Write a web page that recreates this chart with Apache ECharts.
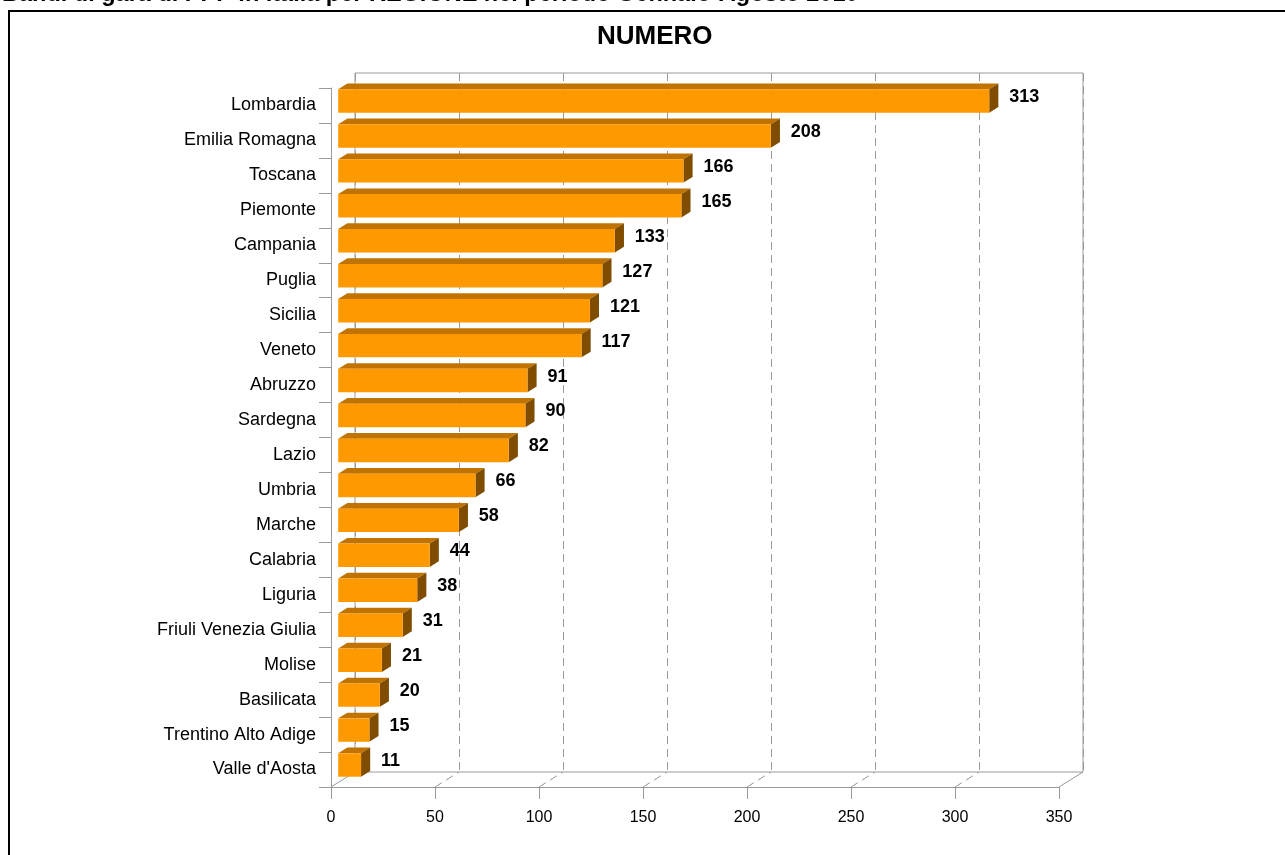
<!DOCTYPE html>
<html>
<head>
<meta charset="utf-8">
<script src="https://cdn.jsdelivr.net/npm/echarts@6/dist/echarts.min.js"></script>
<style>
  html, body { margin: 0; padding: 0; background: #fff; }
  #chart { width: 1285px; height: 855px; }
</style>
</head>
<body>
<div id="chart"></div>
<script>
const regions = ['Lombardia', 'Emilia Romagna', 'Toscana', 'Piemonte', 'Campania', 'Puglia', 'Sicilia', 'Veneto', 'Abruzzo', 'Sardegna', 'Lazio', 'Umbria', 'Marche', 'Calabria', 'Liguria', 'Friuli Venezia Giulia', 'Molise', 'Basilicata', 'Trentino Alto Adige', "Valle d'Aosta"];
const counts = [313, 208, 166, 165, 133, 127, 121, 117, 91, 90, 82, 66, 58, 44, 38, 31, 21, 20, 15, 11];
const xTicks = [0, 50, 100, 150, 200, 250, 300, 350];
const pageTitle = 'Bandi di gara di PPP in Italia per REGIONE nel periodo Gennaio-Agosto 2010';
const chartTitle = 'NUMERO';

const FONT = "'Liberation Sans', Arial, sans-serif";
const AXIS_COLOR = '#9a9a9a';
const DX = 24, DY = -15;        // wall depth
const BAR_OFF = 0.3;            // bar front plane as fraction of depth
const BAR_DEPTH = 0.38;         // bar depth as fraction of depth
const FRONT = '#FF9900', TOP = '#C07300', SIDE = '#7F4C00';

const chart = echarts.init(document.getElementById('chart'), null, { renderer: 'canvas' });

const barData = counts.map((v, i) => [v, i]);

function renderBar(params, api) {
  const v = api.value(0), c = api.value(1);
  const p0 = api.coord([0, c]);
  const p1 = api.coord([v, c]);
  const band = api.size([0, 1])[1];
  const h = band * 0.67;
  const ox = DX * BAR_OFF, oy = DY * BAR_OFF;
  const dx = DX * BAR_DEPTH, dy = DY * BAR_DEPTH;
  const x0 = p0[0] + ox, x1 = p1[0] + ox;
  const yc = p0[1] + oy;
  const yt = yc - h / 2, yb = yc + h / 2;
  return {
    type: 'group',
    children: [
      { type: 'polygon', shape: { points: [[x0, yt], [x1, yt], [x1 + dx, yt + dy], [x0 + dx, yt + dy]] }, style: { fill: TOP } },
      { type: 'polygon', shape: { points: [[x1, yt], [x1 + dx, yt + dy], [x1 + dx, yb + dy], [x1, yb]] }, style: { fill: SIDE } },
      { type: 'rect', shape: { x: x0, y: yt, width: x1 - x0, height: h }, style: { fill: FRONT } },
      { type: 'text', style: { text: String(v), x: x1 + 20, y: yc - 4, font: 'bold 18px ' + FONT, fill: '#000', verticalAlign: 'middle', align: 'left' } }
    ]
  };
}

function renderFloor(params, api) {
  const v = api.value(0);
  const cs = params.coordSys;
  const x = api.coord([v, 0])[0];
  const yb = cs.y + cs.height;
  const edge = (v === xTicks[0] || v === xTicks[xTicks.length - 1]);
  return {
    type: 'line',
    shape: { x1: x, y1: yb, x2: x + DX, y2: yb + DY },
    style: { stroke: AXIS_COLOR, lineWidth: 1, lineDash: edge ? null : [8, 5] }
  };
}

const option = {
  animation: false,
  backgroundColor: '#fff',
  title: {
    text: chartTitle,
    left: 592,
    top: 19,
    textStyle: { fontFamily: FONT, fontSize: 26, fontWeight: 'bold', color: '#000' }
  },
  graphic: [
    { type: 'rect', shape: { x: 9, y: 11, width: 1300, height: 870 }, style: { fill: 'none', stroke: '#000', lineWidth: 2 }, silent: true },
    { type: 'text', left: 2, top: -17, style: { text: pageTitle, font: 'bold 23.5px ' + FONT, fill: '#000' }, silent: true }
  ],
  grid: [
    { left: 331, top: 88, width: 728, height: 699, containLabel: false },
    { left: 355, top: 73, width: 728, height: 699, show: true, borderColor: AXIS_COLOR, borderWidth: 1, backgroundColor: 'transparent', z: 0 }
  ],
  xAxis: [
    {
      gridIndex: 0, type: 'value', min: 0, max: 350, interval: 50,
      axisLine: { show: true, lineStyle: { color: AXIS_COLOR } },
      axisTick: { show: true, length: 12, lineStyle: { color: AXIS_COLOR } },
      axisLabel: { margin: 23, fontFamily: FONT, fontSize: 16, color: '#000' },
      splitLine: { show: false }
    },
    {
      gridIndex: 1, type: 'value', min: 0, max: 350, interval: 50,
      axisLine: { show: false }, axisTick: { show: false }, axisLabel: { show: false },
      splitLine: { show: true, lineStyle: { color: AXIS_COLOR, type: [8, 5] } }
    }
  ],
  yAxis: [
    {
      gridIndex: 0, type: 'category', data: regions, inverse: true,
      axisLine: { show: true, lineStyle: { color: AXIS_COLOR } },
      axisTick: { show: true, length: 12, lineStyle: { color: AXIS_COLOR } },
      axisLabel: { margin: 15, fontFamily: FONT, fontSize: 18, color: '#000' },
      splitLine: { show: false }
    },
    {
      gridIndex: 1, type: 'category', data: regions, inverse: true, show: false
    }
  ],
  series: [
    {
      type: 'custom', name: 'floor', xAxisIndex: 0, yAxisIndex: 0,
      data: xTicks.map(t => [t, 0]), renderItem: renderFloor, z: 1, silent: true
    },
    {
      type: 'custom', name: 'Numero', xAxisIndex: 0, yAxisIndex: 0,
      data: barData, renderItem: renderBar, z: 3,
      encode: { x: 0, y: 1 }
    }
  ]
};

chart.setOption(option);
</script>
</body>
</html>
